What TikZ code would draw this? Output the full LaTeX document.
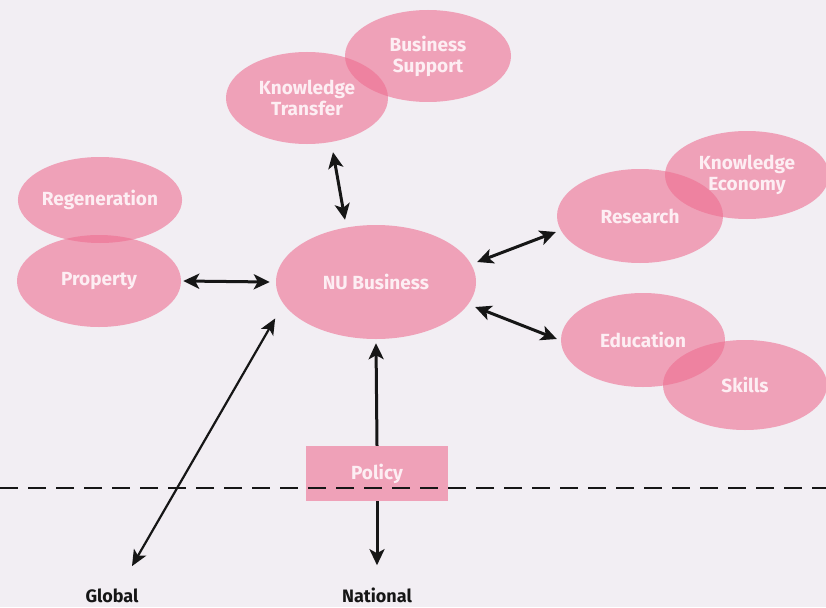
\documentclass[tikz,border=0pt]{standalone}
\usepackage{fontspec}
\setmainfont{Fira Sans}
\usetikzlibrary{shapes.geometric,arrows.meta}
\definecolor{bg}{RGB}{242,238,243}
\definecolor{blob}{RGB}{238,110,145}
\definecolor{blobtext}{RGB}{253,238,243}
\definecolor{ink}{RGB}{22,22,22}
\begin{document}
\begin{tikzpicture}[x=1pt,y=-1pt,
  blobnode/.style={ellipse, fill=blob, fill opacity=0.6, text opacity=1, text=blobtext,
    inner sep=0pt, align=center, font=\bfseries\fontsize{19}{21}\selectfont},
  boxnode/.style={rectangle, fill=blob, fill opacity=0.6, text opacity=1, text=blobtext,
    inner sep=0pt, minimum width=142pt, minimum height=55pt, font=\bfseries\fontsize{19}{21}\selectfont},
  labelnode/.style={text=ink, inner sep=0pt, anchor=base, font=\bfseries\fontsize{18}{20}\selectfont},
  link/.style={draw=ink, line width=3pt, {Stealth[length=16pt,width=15pt,inset=4pt]}-{Stealth[length=16pt,width=15pt,inset=4pt]}},
  thinlink/.style={draw=ink, line width=2.2pt, {Stealth[length=16pt,width=14pt,inset=4pt]}-{Stealth[length=16pt,width=14pt,inset=4pt]}},
  onelink/.style={draw=ink, line width=3pt, -{Stealth[length=16pt,width=15pt,inset=4pt]}},
  border/.style={draw=ink, line width=2.8pt, dash pattern=on 18pt off 10pt}
]
\fill[bg] (0,0) rectangle (826,607);
\useasboundingbox (0,0) rectangle (826,607);

% ellipses
\node[blobnode, minimum width=166pt, minimum height=92pt] (bs) at (428,56) {Business\\Support};
\node[blobnode, minimum width=162pt, minimum height=92pt] (kt) at (307,98) {Knowledge\\Transfer};
\node[blobnode, minimum width=164pt, minimum height=86pt] (regen) at (100,200) {Regeneration};
\node[blobnode, minimum width=164pt, minimum height=92pt] (prop) at (99,281) {Property};
\node[blobnode, minimum width=200pt, minimum height=114pt] (nu) at (376,282) {NU Business};
\node[blobnode, minimum width=164pt, minimum height=88pt] (ke) at (747,175) {Knowledge\\Economy};
\node[blobnode, minimum width=166pt, minimum height=94pt] (res) at (640,216) {Research};
\node[blobnode, minimum width=164pt, minimum height=90pt] (skills) at (745,385) {Skills};
\node[blobnode, minimum width=164pt, minimum height=94pt] (edu) at (643,340) {Education};

% policy box and levels
\node[boxnode] (policy) at (377,473.5) {Policy};
\node[labelnode] (global) at (112,602) {Global};
\node[labelnode] (national) at (377,602) {National};

% level boundary
\coordinate (dl) at (0,488);
\coordinate (dr) at (826,488);
\draw[border] (dl) -- (dr);

% connectors
\draw[link] ([xshift=26pt,yshift=-8pt]kt.south) -- ([xshift=-31pt,yshift=5pt]nu.north);
\draw[link] ([xshift=2pt]prop.east) -- ([xshift=-6pt]nu.west);
\draw[link] ([xshift=1pt,yshift=20pt]nu.east) -- ([xshift=-1pt,yshift=-16pt]res.west);
\draw[link] ([xshift=-1pt,yshift=-25pt]nu.east) -- ([xshift=-4pt,yshift=1pt]edu.west);
\draw[thinlink] ([xshift=-30pt,yshift=4pt]nu.south west) -- ([xshift=20pt,yshift=22pt]global.north);
\draw[onelink] (policy.north) -- ([yshift=-4pt]nu.south);
\draw[onelink] (policy.south) -- ([yshift=22pt]national.north);
\end{tikzpicture}
\end{document}
